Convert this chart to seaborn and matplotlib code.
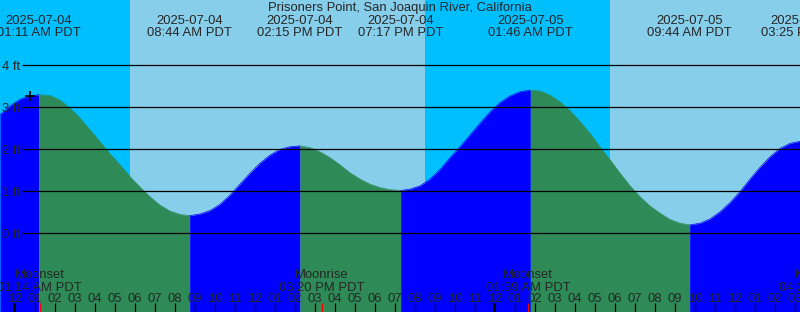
import matplotlib
matplotlib.use("Agg")
import matplotlib.pyplot as plt
import seaborn as sns
import numpy as np
import pandas as pd

# ---------------- data ----------------
title = "Prisoners Point, San Joaquin River, California"

# water level samples: hours since 2025-07-04 00:00 PDT, feet
hours = [-0.75, -0.25, 0.25, 0.75, 1.183, 1.25, 1.75, 2.25, 2.75, 3.25, 3.75, 4.25, 4.75,
         5.25, 5.75, 6.25, 6.75, 7.25, 7.75, 8.25, 8.733, 8.75, 9.25, 9.75, 10.25,
         10.75, 11.25, 11.75, 12.25, 12.75, 13.25, 13.75, 14.25, 14.75, 15.25, 15.75,
         16.25, 16.75, 17.25, 17.75, 18.25, 18.75, 19.25, 19.283, 19.75, 20.25, 20.75,
         21.25, 21.75, 22.25, 22.75, 23.25, 23.75, 24.25, 24.75, 25.25, 25.767, 26.25,
         26.75, 27.25, 27.75, 28.25, 28.75, 29.25, 29.75, 30.25, 30.75, 31.25, 31.75,
         32.25, 32.75, 33.25, 33.733, 33.75, 34.25, 34.75, 35.25, 35.75, 36.25, 36.75,
         37.25, 37.75, 38.25, 38.75, 39.25]
levels = [2.82, 3.03, 3.19, 3.27, 3.30, 3.30, 3.28, 3.17, 2.98, 2.74, 2.46, 2.18, 1.89,
          1.63, 1.35, 1.10, 0.87, 0.67, 0.53, 0.45, 0.42, 0.42, 0.46, 0.54, 0.69,
          0.91, 1.17, 1.43, 1.67, 1.86, 2.00, 2.06, 2.08, 2.04, 1.94, 1.80,
          1.63, 1.44, 1.29, 1.17, 1.09, 1.04, 1.02, 1.02, 1.05, 1.13, 1.29,
          1.52, 1.80, 2.06, 2.34, 2.62, 2.89, 3.11, 3.27, 3.37, 3.41, 3.39,
          3.29, 3.13, 2.92, 2.66, 2.38, 2.05, 1.75, 1.43, 1.13, 0.87, 0.65,
          0.48, 0.33, 0.24, 0.20, 0.20, 0.24, 0.34, 0.51, 0.73, 0.99, 1.29,
          1.57, 1.82, 2.02, 2.14, 2.19]

# high / low tide events (day offset, date, time)
tide_days = [0, 0, 0, 0, 1, 1, 1]
tide_dates = ["2025-07-04", "2025-07-04", "2025-07-04", "2025-07-04",
              "2025-07-05", "2025-07-05", "2025-07-05"]
tide_times = ["01:11 AM PDT", "08:44 AM PDT", "02:15 PM PDT", "07:17 PM PDT",
              "01:46 AM PDT", "09:44 AM PDT", "03:25 PM PDT"]

# moon events
moon_days = [0, 0, 1, 1]
moon_names = ["Moonset", "Moonrise", "Moonset", "Moonrise"]
moon_times = ["01:14 AM PDT", "03:20 PM PDT", "01:39 AM PDT", "04:20 PM PDT"]

# sun: (start, end) hours of daylight
daylight = [(5.75, 20.5), (29.75, 39.25)]

ft_levels = [0, 1, 2, 3, 4]
hour_ticks = list(range(0, 40))
now_mark = (0.75, 3.27)

# ---------------- style ----------------
NIGHT = "#00BFFF"
DAY = "#87CEEB"
FLOOD = "#0000FF"
EBB = "#2E8B57"

sns.set_style("white")
plt.rcParams["font.family"] = ["Liberation Sans", "DejaVu Sans"]
FS = 9.4


def to_hours(day, t):
    hm, ap, _ = t.split()
    h, m = map(int, hm.split(":"))
    h = h % 12 + (12 if ap == "PM" else 0)
    return day * 24 + h + m / 60.0


def hx(px):  # pixel x -> hours
    return (px - 15) / 20.0


def fy(py):  # pixel y -> feet
    return (233.3 - py) / 42.0


fig = plt.figure(figsize=(8, 3.12), dpi=100)
ax = fig.add_axes([0, 0, 1, 1])

# sky
ax.axvspan(hx(-50), hx(850), color=NIGHT, lw=0, zorder=0)
for s, e in daylight:
    ax.axvspan(s, e, color=DAY, lw=0, zorder=0.5)

# tide curve, split at extremes
df = pd.DataFrame({"hour": hours, "level": levels})
ext = [to_hours(d, t) for d, t in zip(tide_days, tide_times)]
hr = np.array(hours)
bounds = [hr[0]] + [hr[np.argmin(np.abs(hr - e))] for e in ext if hr[0] < e < hr[-1]] + [hr[-1]]
bottom = fy(312)
for i in range(len(bounds) - 1):
    a, b = bounds[i], bounds[i + 1]
    seg = df[(df.hour >= a - 1e-6) & (df.hour <= b + 1e-6)]
    rising = seg.level.iloc[-1] > seg.level.iloc[0]
    col = FLOOD if rising else EBB
    ax.fill_between(seg.hour, seg.level, bottom, color=col, lw=0, zorder=1)
    sns.lineplot(data=seg, x="hour", y="level", ax=ax, color=col, lw=0.5,
                 zorder=1.1, legend=False, sort=False)

ax.set_xlim(hx(0), hx(800))
ax.set_ylim(fy(312), fy(0))
ax.axis("off")

# grid lines and ft labels
ax.hlines(ft_levels, hx(22), hx(801), color="black", lw=0.9, zorder=2)
for v in ft_levels:
    py = 233.3 - 42 * v
    ax.text(hx(2), fy(py + 4.5), f"{v} ft", fontsize=FS, va="baseline", ha="left", zorder=3)

# now marker
ax.plot([now_mark[0]], [now_mark[1]], marker="+", color="black", ms=7, mew=1.2, zorder=3)

# title and tide labels
ax.text(hx(400), fy(11), title, fontsize=FS, ha="center", va="baseline", zorder=3)
for e, d, t in zip(ext, tide_dates, tide_times):
    ax.text(e, fy(24), d, fontsize=FS, ha="center", va="baseline", zorder=3)
    ax.text(e, fy(36.5), t, fontsize=FS, ha="center", va="baseline", zorder=3)

# moon labels
moon_h = [to_hours(d, t) for d, t in zip(moon_days, moon_times)]
for h, n, t in zip(moon_h, moon_names, moon_times):
    ax.text(h, fy(278.3), n, fontsize=FS, ha="center", va="baseline", zorder=3)
    ax.text(h, fy(290.7), t, fontsize=FS, ha="center", va="baseline", zorder=3)

# hour ticks and labels
for h in hour_ticks:
    lab = "12" if h % 12 == 0 else f"{h % 12:02d}"
    ax.text(h, fy(301.7), lab, fontsize=FS, ha="center", va="baseline", zorder=3)
    if h % 24 == 0:
        ax.vlines(h - 0.075, fy(312), fy(303), color="black", lw=2.2, zorder=3)
    else:
        ax.vlines(h, fy(312), fy(303), color="black", lw=0.9, zorder=3)
for h in moon_h:
    ax.vlines(h, fy(312), fy(303), color="red", lw=0.9, zorder=3.5)

fig.savefig("out.png", dpi=100)
